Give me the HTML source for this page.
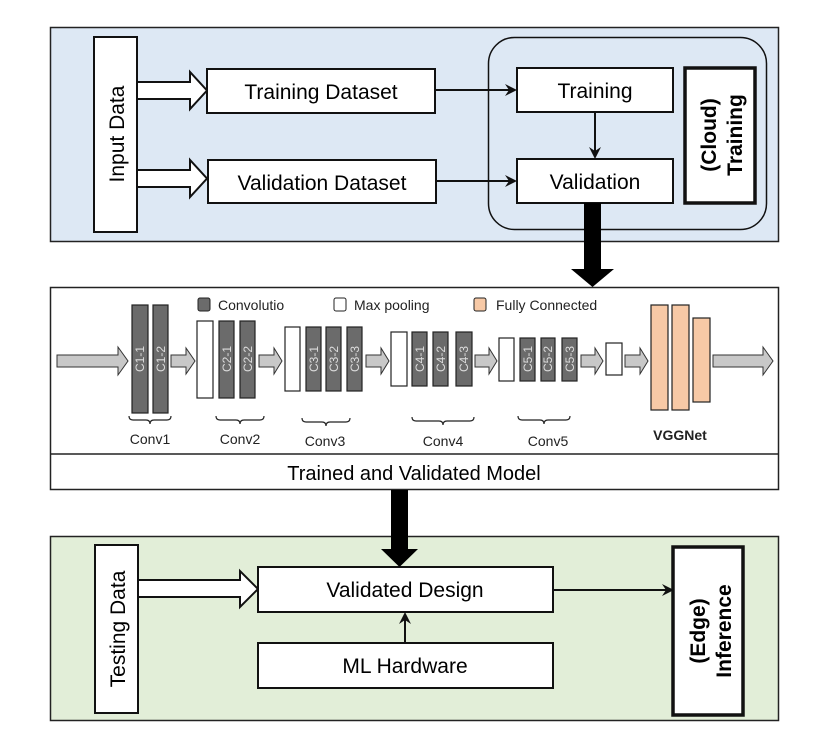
<!DOCTYPE html>
<html><head><meta charset="utf-8"><style>
html,body{margin:0;padding:0;background:#fff;}
svg{display:block;}
text{font-family:"Liberation Sans",Arial,sans-serif;}
</style></head><body>
<svg width="830" height="743" viewBox="0 0 830 743" xmlns="http://www.w3.org/2000/svg">
<!-- Top panel -->
<rect x="50.5" y="27.5" width="728" height="214" fill="#dde8f4" stroke="#222" stroke-width="1.5"/>
<rect x="94" y="37" width="43" height="195" fill="#fff" stroke="#111" stroke-width="2"/>
<text transform="translate(124,134) rotate(-90)" text-anchor="middle" font-size="21">Input Data</text>
<polygon points="137,82 190,82 190,72 207,90.5 190,109 190,99 137,99" fill="#fff" stroke="#111" stroke-width="2"/>
<polygon points="137,170 190,170 190,160 207,178.5 190,197 190,187 137,187" fill="#fff" stroke="#111" stroke-width="2"/>
<rect x="207" y="69" width="228" height="44" fill="#fff" stroke="#111" stroke-width="2"/>
<text x="321" y="99" text-anchor="middle" font-size="21">Training Dataset</text>
<rect x="208" y="160" width="228" height="43" fill="#fff" stroke="#111" stroke-width="2"/>
<text x="322" y="190" text-anchor="middle" font-size="21">Validation Dataset</text>
<rect x="488.5" y="37.5" width="278" height="192" rx="26" fill="none" stroke="#111" stroke-width="1.5"/>
<line x1="435" y1="90" x2="510" y2="90" stroke="#111" stroke-width="2"/>
<polygon points="517,90 505,84 509,90 505,96" fill="#111"/>
<line x1="436" y1="181" x2="510" y2="181" stroke="#111" stroke-width="2"/>
<polygon points="517,181 505,175 509,181 505,187" fill="#111"/>
<rect x="517" y="68" width="156" height="44" fill="#fff" stroke="#111" stroke-width="2"/>
<text x="595" y="98" text-anchor="middle" font-size="21">Training</text>
<rect x="517" y="159" width="156" height="44" fill="#fff" stroke="#111" stroke-width="2"/>
<text x="595" y="189" text-anchor="middle" font-size="21">Validation</text>
<line x1="595" y1="112" x2="595" y2="153" stroke="#111" stroke-width="2"/>
<polygon points="595,159 589,147 595,151 601,147" fill="#111"/>
<rect x="685" y="68" width="70" height="135" fill="#fff" stroke="#111" stroke-width="3.5"/>
<text transform="translate(716,135) rotate(-90)" text-anchor="middle" font-size="21" font-weight="bold">(Cloud)</text>
<text transform="translate(742,135) rotate(-90)" text-anchor="middle" font-size="21" font-weight="bold">Training</text>
<!-- Middle panel -->
<rect x="50.5" y="287.5" width="728" height="202" fill="#fff" stroke="#222" stroke-width="1.5"/>
<line x1="50" y1="454" x2="779" y2="454" stroke="#222" stroke-width="1.5"/>
<text x="414" y="480" text-anchor="middle" font-size="20">Trained and Validated Model</text>
<!-- legend -->
<rect x="198" y="298" width="12" height="13" rx="2" fill="#6b6b6b" stroke="#222" stroke-width="1"/>
<text x="218" y="310" font-size="14" fill="#222">Convolutio</text>
<rect x="334" y="298" width="12" height="13" rx="2" fill="#fff" stroke="#222" stroke-width="1"/>
<text x="354" y="310" font-size="14" fill="#222">Max pooling</text>
<rect x="474" y="298" width="12" height="13" rx="2" fill="#f7c9a6" stroke="#222" stroke-width="1"/>
<text x="496" y="310" font-size="14" fill="#222">Fully Connected</text>
<g stroke="#333" stroke-width="1" fill="#c8c8c8">
<polygon points="57,355 118,355 118,347 128,361 118,375 118,367 57,367"/>
<polygon points="171,355 186,355 186,348 195,361 186,374 186,367 171,367"/>
<polygon points="259,355 274,355 274,348 282,361 274,374 274,367 259,367"/>
<polygon points="366,355 381,355 381,348 389,361 381,374 381,367 366,367"/>
<polygon points="475,355 489,355 489,348 497,361 489,374 489,367 475,367"/>
<polygon points="581,355 595,355 595,348 603,361 595,374 595,367 581,367"/>
<polygon points="625,355 640,355 640,348 648,361 640,374 640,367 625,367"/>
<polygon points="713,355 763,355 763,347 773,361 763,375 763,367 713,367"/>
</g>
<g stroke="#222" stroke-width="1.2">
<rect x="132" y="305" width="16" height="108" fill="#6b6b6b"/>
<rect x="153" y="305" width="15" height="108" fill="#6b6b6b"/>
<rect x="197" y="321" width="16" height="77" fill="#fff"/>
<rect x="219" y="321" width="15" height="77" fill="#6b6b6b"/>
<rect x="240" y="321" width="15" height="77" fill="#6b6b6b"/>
<rect x="285" y="327" width="15" height="64" fill="#fff"/>
<rect x="306" y="327" width="15" height="64" fill="#6b6b6b"/>
<rect x="326" y="327" width="15" height="64" fill="#6b6b6b"/>
<rect x="347" y="327" width="15" height="64" fill="#6b6b6b"/>
<rect x="391" y="332" width="16" height="54" fill="#fff"/>
<rect x="412" y="332" width="15" height="54" fill="#6b6b6b"/>
<rect x="433" y="332" width="15" height="54" fill="#6b6b6b"/>
<rect x="456" y="332" width="16" height="54" fill="#6b6b6b"/>
<rect x="499" y="338" width="15" height="43" fill="#fff"/>
<rect x="520" y="338" width="15" height="43" fill="#6b6b6b"/>
<rect x="541" y="338" width="14" height="43" fill="#6b6b6b"/>
<rect x="562" y="338" width="15" height="43" fill="#6b6b6b"/>
<rect x="606" y="343" width="16" height="32" fill="#fff"/>
<rect x="651" y="305" width="17" height="105" fill="#f7c9a6"/>
<rect x="672" y="305" width="17" height="105" fill="#f7c9a6"/>
<rect x="693" y="318" width="17" height="84" fill="#f7c9a6"/>
</g>
<g fill="#ddd" font-size="12" text-anchor="middle">
<text transform="translate(144,359) rotate(-90)">C1-1</text>
<text transform="translate(165,359) rotate(-90)">C1-2</text>
<text transform="translate(231,359) rotate(-90)">C2-1</text>
<text transform="translate(252,359) rotate(-90)">C2-2</text>
<text transform="translate(318,359) rotate(-90)">C3-1</text>
<text transform="translate(338,359) rotate(-90)">C3-2</text>
<text transform="translate(359,359) rotate(-90)">C3-3</text>
<text transform="translate(424,359) rotate(-90)">C4-1</text>
<text transform="translate(445,359) rotate(-90)">C4-2</text>
<text transform="translate(468,359) rotate(-90)">C4-3</text>
<text transform="translate(532,359) rotate(-90)">C5-1</text>
<text transform="translate(552,359) rotate(-90)">C5-2</text>
<text transform="translate(574,359) rotate(-90)">C5-3</text>
</g>
<g fill="none" stroke="#222" stroke-width="1.2">
<path d="M129,416 q0,4 4,4 h13 q4,0 4,4 q0,-4 4,-4 h13 q4,0 4,-4"/>
<path d="M216,416 q0,4 4,4 h16 q4,0 4,4 q0,-4 4,-4 h16 q4,0 4,-4"/>
<path d="M302,418 q0,4 4,4 h16 q4,0 4,4 q0,-4 4,-4 h16 q4,0 4,-4"/>
<path d="M412,417 q0,4 4,4 h23 q4,0 4,4 q0,-4 4,-4 h23 q4,0 4,-4"/>
<path d="M518,416 q0,4 4,4 h18 q4,0 4,4 q0,-4 4,-4 h18 q4,0 4,-4"/>
</g>
<g font-size="14" fill="#222" text-anchor="middle">
<text x="150" y="444">Conv1</text>
<text x="240" y="444">Conv2</text>
<text x="325" y="446">Conv3</text>
<text x="443" y="446">Conv4</text>
<text x="548" y="446">Conv5</text>
<text x="680" y="440" font-weight="bold">VGGNet</text>
</g>
<!-- Bottom panel -->
<rect x="50.5" y="536.5" width="728" height="184" fill="#e2eed8" stroke="#222" stroke-width="1.5"/>
<rect x="95" y="545" width="43" height="168" fill="#fff" stroke="#111" stroke-width="2"/>
<text transform="translate(125,629) rotate(-90)" text-anchor="middle" font-size="21">Testing Data</text>
<polygon points="138,580 240,580 240,571 258,589 240,607 240,597 138,597" fill="#fff" stroke="#111" stroke-width="2"/>
<rect x="258" y="567" width="295" height="45" fill="#fff" stroke="#111" stroke-width="2"/>
<text x="405" y="597" text-anchor="middle" font-size="21">Validated Design</text>
<rect x="258" y="643" width="295" height="45" fill="#fff" stroke="#111" stroke-width="2"/>
<text x="405" y="673" text-anchor="middle" font-size="21">ML Hardware</text>
<line x1="405" y1="643" x2="405" y2="618" stroke="#111" stroke-width="2"/>
<polygon points="405,612 399,624 405,620 411,624" fill="#111"/>
<line x1="553" y1="590" x2="667" y2="590" stroke="#111" stroke-width="2"/>
<polygon points="674,590 662,584 666,590 662,596" fill="#111"/>
<rect x="673" y="547" width="70" height="168" fill="#fff" stroke="#111" stroke-width="3.5"/>
<text transform="translate(705,631) rotate(-90)" text-anchor="middle" font-size="21" font-weight="bold">(Edge)</text>
<text transform="translate(731,631) rotate(-90)" text-anchor="middle" font-size="21" font-weight="bold">Inference</text>
<!-- Big arrows on top -->
<polygon points="584,203 601,203 601,269 614,269 592.5,287 571,269 584,269" fill="#000"/>
<polygon points="391,490 408,490 408,549 418,549 399.5,567 381,549 391,549" fill="#000"/>
</svg>
</body></html>
